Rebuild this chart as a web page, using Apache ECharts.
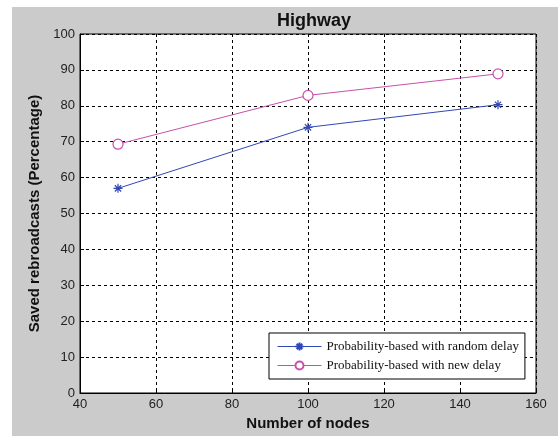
<!DOCTYPE html>
<html>
<head>
<meta charset="utf-8">
<script src="https://cdn.jsdelivr.net/npm/echarts@6/dist/echarts.min.js"></script>
<style>
  html, body { margin: 0; padding: 0; background: #ffffff; }
  #chart { width: 558px; height: 436px; }
</style>
</head>
<body>
<div id="chart"></div>
<script>
// Number of nodes on the x axis
const nodes = [50, 100, 150];
// Saved rebroadcasts (%) for each scheme
const randomDelay = [57.0, 74.0, 80.3];
const newDelay = [69.3, 82.9, 88.9];
// Tick marks
const xTicks = [40, 60, 80, 100, 120, 140, 160];
const yTicks = [0, 10, 20, 30, 40, 50, 60, 70, 80, 90, 100];

const seriesNames = ['Probability-based with random delay', 'Probability-based with new delay'];
const blue = '#3048b4';
const magenta = '#c850aa';
const starPath = 'path://M0,-10L0,10M-10,0L10,0M-7,-7L7,7M-7,7L7,-7';

const chart = echarts.init(document.getElementById('chart'), null, { renderer: 'canvas' });

const pairs = (xs, ys) => xs.map((x, i) => [x, ys[i]]);

chart.setOption({
  backgroundColor: '#ffffff',
  animation: false,
  graphic: [{
    type: 'rect',
    z: -10,
    shape: { x: 12, y: 7, width: 546, height: 429 },
    style: { fill: '#cbcbcb' }
  }],
  title: {
    text: 'Highway',
    left: 309,
    textAlign: 'center',
    top: 7,
    textStyle: { fontFamily: 'Liberation Sans', fontWeight: 'bold', fontSize: 18, color: '#111' }
  },
  grid: {
    left: 80, right: 22, top: 34, bottom: 42,
    show: true, backgroundColor: '#ffffff', borderColor: '#000', borderWidth: 1
  },
  legend: {
    left: 269, top: 333, width: 256,
    orient: 'vertical',
    backgroundColor: '#ffffff',
    borderColor: '#000', borderWidth: 1,
    padding: [7, 6, 7, 8],
    itemGap: 6,
    itemWidth: 44, itemHeight: 10,
    lineStyle: { width: 1 },
    textStyle: { fontFamily: 'Liberation Serif', fontSize: 13, color: '#111' },
    data: seriesNames
  },
  xAxis: {
    type: 'value',
    min: xTicks[0], max: xTicks[xTicks.length - 1], interval: 20,
    name: 'Number of nodes',
    nameLocation: 'middle', nameGap: 23,
    nameTextStyle: { fontFamily: 'Liberation Sans', fontWeight: 'bold', fontSize: 15, color: '#111' },
    axisLine: { lineStyle: { color: '#000', width: 1 } },
    axisTick: { inside: true, length: 4, lineStyle: { color: '#000' } },
    axisLabel: { fontFamily: 'Liberation Sans', fontSize: 13, color: '#222', margin: 5 },
    splitLine: { show: true, lineStyle: { color: '#000', type: [3, 3], width: 1 } }
  },
  yAxis: {
    type: 'value',
    min: yTicks[0], max: yTicks[yTicks.length - 1], interval: 10,
    name: 'Saved rebroadcasts (Percentage)',
    nameLocation: 'middle', nameGap: 32,
    nameTextStyle: { fontFamily: 'Liberation Sans', fontWeight: 'bold', fontSize: 15, color: '#111' },
    axisLine: { show: true, lineStyle: { color: '#000', width: 1 } },
    axisTick: { show: true, inside: true, length: 4, lineStyle: { color: '#000' } },
    axisLabel: { fontFamily: 'Liberation Sans', fontSize: 13, color: '#222', margin: 5 },
    splitLine: { show: true, lineStyle: { color: '#000', type: [3, 3], width: 1 } }
  },
  series: [
    {
      name: seriesNames[0],
      type: 'line',
      data: pairs(nodes, randomDelay),
      symbol: starPath,
      symbolSize: 9,
      lineStyle: { color: blue, width: 1 },
      itemStyle: { color: blue, borderColor: blue, borderWidth: 1.2 }
    },
    {
      name: seriesNames[1],
      type: 'line',
      data: pairs(nodes, newDelay),
      symbol: 'circle',
      symbolSize: 10,
      lineStyle: { color: magenta, width: 1 },
      itemStyle: { color: '#ffffff', borderColor: magenta, borderWidth: 1.2 }
    }
  ]
});
</script>
</body>
</html>
